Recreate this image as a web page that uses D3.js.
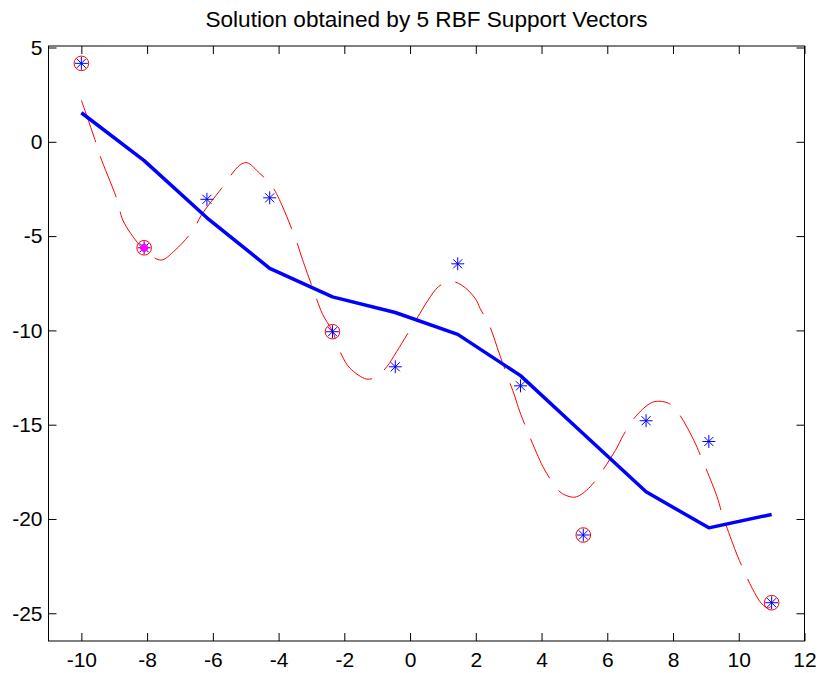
<!DOCTYPE html>
<html>
<head>
<meta charset="utf-8">
<script src="https://cdn.jsdelivr.net/npm/d3@7"></script>
<style>
  body { margin: 0; background: #fff; }
  .axis text { font-family: "Liberation Sans", Arial, sans-serif; font-size: 21px; fill: #000; }
  .axis line { stroke: #000; }
  .axis .domain { display: none; }
</style>
</head>
<body>
<div class="app"></div>
<script>
// samples and fits
var sampleX = [-10, -8.09, -6.18, -4.27, -2.36, -0.45, 1.45, 3.36, 5.27, 7.18, 9.09, 11];
var sampleY = [4.16, -5.62, -3.05, -2.97, -10.07, -11.93, -6.47, -12.94, -20.85, -14.79, -15.89, -24.44];
var fitY = [1.54, -1.0, -4.03, -6.71, -8.22, -9.05, -10.21, -12.4, -15.48, -18.56, -20.47, -19.76];
var supportIdx = [0, 1, 4, 8, 11];
var markedIdx = [1];

// the red dashed curve (rbf output)
var curveX = [-10, -9.55, -9.42, -8.89, -8.74, -8.23, -7.95, -7.57, -7.15, -6.6, -6.35, -5.75, -5.18, -4.96, -4.57,
  -4.22, -3.98, -3.45, -3.3, -2.85, -2.66, -2.36, -2.08, -1.83, -1.32, -1.02, -0.71, -0.41, 0.3, 0.55, 0.86, 1.22,
  1.57, 1.98, 2.13, 2.43, 2.73, 3.19, 3.34, 3.9, 4.1, 4.56, 4.87, 5.07, 5.48, 6.25, 6.49, 6.9, 7.41, 7.87, 8.17,
  8.63, 8.83, 9.34, 9.49, 9.95, 10.15, 10.41, 10.7, 10.9, 11];
var curveY = [2.2, -0.08, -0.8, -3.18, -4.15, -5.48, -5.95, -6.27, -5.75, -4.68, -3.89, -2.5, -1.24, -1.11, -1.68,
  -2.3, -3.05, -5.3, -6.1, -8.3, -9.15, -10.05, -11.31, -12.0, -12.58, -12.46, -11.93, -11.13, -9.1, -8.39, -7.69, -7.39,
  -7.6, -8.3, -8.83, -9.81, -11.31, -13.52, -14.32, -16.7, -17.41, -18.56, -18.82, -18.82, -18.29, -16.35, -15.55, -14.49, -13.79, -13.87, -14.4,
  -15.82, -16.61, -18.82, -19.7, -21.91, -22.71, -23.68, -24.5, -24.72, -24.6];

var xTicks = [-10, -8, -6, -4, -2, 0, 2, 4, 6, 8, 10, 12];
var yTicks = [-25, -20, -15, -10, -5, 0, 5];
var titleText = "Solution obtained by 5 RBF Support Vectors";

var W = 821, H = 673;
var box = {left: 48.5, right: 804.5, top: 46, bottom: 641};

var svg = d3.select(".app").append("svg")
    .attr("width", W)
    .attr("height", H);

var x = d3.scaleLinear().domain([-11, 12]).range([box.left, box.right]);
var y = d3.scaleLinear().domain([-26.47, 5.08]).range([box.bottom, box.top]);

// plain hyphen minus, as in the matlab figure
var fmt = function(d) { return String(d); };

svg.append("text")
    .attr("x", (box.left + box.right) / 2)
    .attr("y", 27)
    .attr("text-anchor", "middle")
    .style("font-family", "'Liberation Sans', Arial, sans-serif")
    .style("font-size", "22.6px")
    .text(titleText);

// axes, ticks pointing inwards
svg.append("g").attr("class", "axis")
    .attr("transform", "translate(0," + box.bottom + ")")
    .call(d3.axisBottom(x).tickValues(xTicks).tickSizeInner(-8).tickSizeOuter(0).tickPadding(11).tickFormat(fmt));
svg.append("g").attr("class", "axis")
    .attr("transform", "translate(0," + box.top + ")")
    .call(d3.axisTop(x).tickValues(xTicks).tickSizeInner(-8).tickSizeOuter(0).tickFormat(""));
svg.append("g").attr("class", "axis")
    .attr("transform", "translate(" + box.left + ",0)")
    .call(d3.axisLeft(y).tickValues(yTicks).tickSizeInner(-8).tickSizeOuter(0).tickPadding(6).tickFormat(fmt));
svg.append("g").attr("class", "axis")
    .attr("transform", "translate(" + box.right + ",0)")
    .call(d3.axisRight(y).tickValues(yTicks).tickSizeInner(-8).tickSizeOuter(0).tickFormat(""));

svg.append("rect")
    .attr("x", box.left).attr("y", box.top)
    .attr("width", box.right - box.left).attr("height", box.bottom - box.top)
    .attr("fill", "none").attr("stroke", "#000").attr("stroke-width", 1);

var plot = svg.append("g");

var curveData = curveX.map(function(v, i) { return [v, curveY[i]]; });
plot.append("path")
    .datum(curveData)
    .attr("d", d3.line().x(function(d) { return x(d[0]); }).y(function(d) { return y(d[1]); }).curve(d3.curveCatmullRom))
    .attr("fill", "none")
    .attr("stroke", "#ff0000")
    .attr("stroke-width", 1)
    .attr("stroke-dasharray", "44,15");

var fitData = sampleX.map(function(v, i) { return [v, fitY[i]]; });
plot.append("path")
    .datum(fitData)
    .attr("d", d3.line().x(function(d) { return x(d[0]); }).y(function(d) { return y(d[1]); }))
    .attr("fill", "none")
    .attr("stroke", "#0000ff")
    .attr("stroke-width", 3.5)
    .attr("stroke-linejoin", "round");

function star(g, cx, cy, r, color, w) {
    var d = r * 0.7;
    var segs = [[-r, 0, r, 0], [0, -r, 0, r], [-d, -d, d, d], [-d, d, d, -d]];
    segs.forEach(function(s) {
        g.append("line")
            .attr("x1", cx + s[0]).attr("y1", cy + s[1])
            .attr("x2", cx + s[2]).attr("y2", cy + s[3])
            .attr("stroke", color).attr("stroke-width", w);
    });
}

sampleX.forEach(function(v, i) {
    star(plot, x(v), y(sampleY[i]), 6.5, "#0000ff", 1);
});

markedIdx.forEach(function(i) {
    star(plot, x(sampleX[i]), y(sampleY[i]), 4, "#ff00ff", 3);
});

plot.selectAll("circle.sv")
    .data(supportIdx)
    .enter()
    .append("circle")
    .attr("class", "sv")
    .attr("cx", function(i) { return x(sampleX[i]); })
    .attr("cy", function(i) { return y(sampleY[i]); })
    .attr("r", 7.3)
    .attr("fill", "none")
    .attr("stroke", "#ff0000")
    .attr("stroke-width", 1);
</script>
</body>
</html>
